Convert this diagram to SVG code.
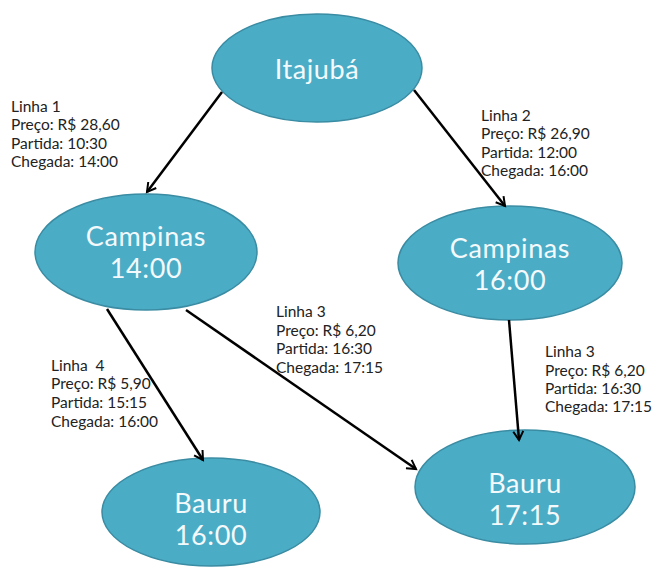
<svg xmlns="http://www.w3.org/2000/svg" width="655" height="571" viewBox="0 0 655 571">
<defs>
<marker id="ah" viewBox="0 0 10 10" refX="8" refY="5" markerWidth="5" markerHeight="5" orient="auto" markerUnits="strokeWidth">
<path d="M1,1 L8,5 L1,9" fill="none" stroke="#000" stroke-width="1.6"/>
</marker>
<style>
.n{fill:#4BACC6;stroke:#3A8CA3;stroke-width:1.5}
.t{font-family:Lato,"Open Sans","Liberation Sans",sans-serif;fill:#F4FAFC;font-size:27px;letter-spacing:0.6px;text-anchor:middle}
.l{font-family:Lato,"Open Sans","Liberation Sans",sans-serif;fill:#222;font-size:15.5px}
.c{stroke:#000;stroke-width:2.5;fill:none;marker-end:url(#ah)}
</style>
</defs>
<rect width="655" height="571" fill="#fff"/>
<g id="itajuba">
<ellipse class="n" cx="317" cy="68" rx="105" ry="54"/>
<text class="t" x="317" y="79" font-size="29">Itajubá</text>
</g>
<g id="campinas1400">
<ellipse class="n" cx="146" cy="252" rx="111" ry="58"/>
<text class="t" x="146" y="246">Campinas</text>
<text class="t" x="146" y="278">14:00</text>
</g>
<g id="campinas1600">
<ellipse class="n" cx="510" cy="263" rx="112" ry="57"/>
<text class="t" x="510" y="258">Campinas</text>
<text class="t" x="510" y="290">16:00</text>
</g>
<g id="bauru1600">
<ellipse class="n" cx="211" cy="512" rx="109" ry="54"/>
<text class="t" x="211" y="513">Bauru</text>
<text class="t" x="211" y="545">16:00</text>
</g>
<g id="bauru1715">
<ellipse class="n" cx="525" cy="487" rx="110" ry="57"/>
<text class="t" x="525" y="493">Bauru</text>
<text class="t" x="525" y="525">17:15</text>
</g>
<g id="connectors">
<line class="c" x1="222" y1="92" x2="147" y2="192"/>
<line class="c" x1="414" y1="90" x2="505" y2="206"/>
<line class="c" x1="107" y1="309" x2="203" y2="460"/>
<line class="c" x1="186" y1="310" x2="416" y2="469"/>
<line class="c" x1="509" y1="320" x2="519" y2="440"/>
</g>
<g id="label-linha1">
<text class="l" x="11" y="112">Linha 1</text>
<text class="l" x="11" y="130">Preço: R$ 28,60</text>
<text class="l" x="11" y="149">Partida: 10:30</text>
<text class="l" x="11" y="167">Chegada: 14:00</text>
</g>
<g id="label-linha2">
<text class="l" x="481" y="121">Linha 2</text>
<text class="l" x="481" y="139">Preço: R$ 26,90</text>
<text class="l" x="481" y="158">Partida: 12:00</text>
<text class="l" x="481" y="176">Chegada: 16:00</text>
</g>
<g id="label-linha3a">
<text class="l" x="276" y="317">Linha 3</text>
<text class="l" x="276" y="336">Preço: R$ 6,20</text>
<text class="l" x="276" y="354">Partida: 16:30</text>
<text class="l" x="276" y="373">Chegada: 17:15</text>
</g>
<g id="label-linha4">
<text class="l" x="51" y="371" xml:space="preserve">Linha  4</text>
<text class="l" x="51" y="389">Preço: R$ 5,90</text>
<text class="l" x="51" y="408">Partida: 15:15</text>
<text class="l" x="51" y="427">Chegada: 16:00</text>
</g>
<g id="label-linha3b">
<text class="l" x="545" y="357">Linha 3</text>
<text class="l" x="545" y="376">Preço: R$ 6,20</text>
<text class="l" x="545" y="394">Partida: 16:30</text>
<text class="l" x="545" y="412">Chegada: 17:15</text>
</g>
</svg>
